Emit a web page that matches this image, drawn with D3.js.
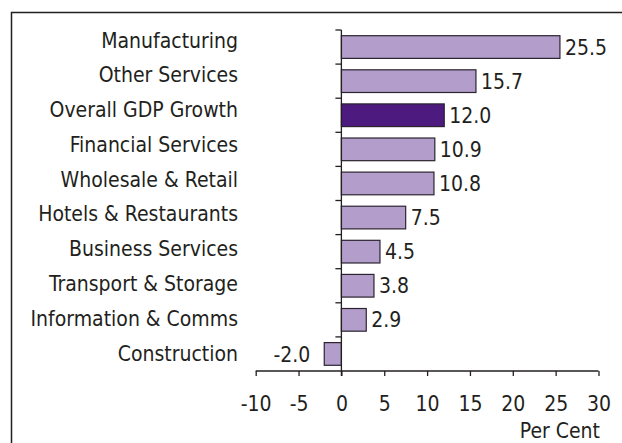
<!DOCTYPE html>
<html>
<head>
<meta charset="utf-8">
<script src="https://cdn.jsdelivr.net/npm/d3@7"></script>
<style>
  html, body { margin: 0; padding: 0; background: #fff; }
  svg { display: block; }
  text { font-family: "DejaVu Sans Condensed", "DejaVu Sans", sans-serif; font-stretch: condensed; fill: #231f20; }
</style>
</head>
<body>
<svg id="chart" width="622" height="443"></svg>
<script>
// Real GDP growth by sector, per cent
const categories = [
  "Manufacturing",
  "Other Services",
  "Overall GDP Growth",
  "Financial Services",
  "Wholesale & Retail",
  "Hotels & Restaurants",
  "Business Services",
  "Transport & Storage",
  "Information & Comms",
  "Construction"
];
const growth = [25.5, 15.7, 12.0, 10.9, 10.8, 7.5, 4.5, 3.8, 2.9, -2.0];
const highlight = "Overall GDP Growth";
const xTicks = [-10, -5, 0, 5, 10, 15, 20, 25, 30];
const xTitle = "Per Cent";

const rows = categories.map((c, i) => ({ name: c, value: growth[i] }));

const svg = d3.select("#chart");
const fontSize = 21;
const fontFamily = '"DejaVu Sans Condensed", "DejaVu Sans", sans-serif';

// outer frame (runs off the right and bottom edges)
svg.append("rect")
  .attr("x", 11.5).attr("y", 12.5)
  .attr("width", 640).attr("height", 460)
  .attr("fill", "none")
  .attr("stroke", "#231f20")
  .attr("stroke-width", 1.5);

const x = d3.scaleLinear().domain([-10, 30]).range([255.7, 598.5]);
const y = d3.scaleBand().domain(categories).range([30, 371]).paddingInner(0.335).paddingOuter(0.1675);
const yLabel = d3.scalePoint().domain(categories).range([40, 353]);

const axisColor = "#231f20";

// bars
svg.append("g").selectAll("rect")
  .data(rows)
  .join("rect")
  .attr("x", d => x(Math.min(0, d.value)))
  .attr("y", d => y(d.name))
  .attr("width", d => Math.abs(x(d.value) - x(0)))
  .attr("height", y.bandwidth())
  .attr("fill", d => d.name === highlight ? "#4d1a7f" : "#b39dca")
  .attr("stroke", "#2b2430")
  .attr("stroke-width", 1.2);

// value labels
svg.append("g").selectAll("text")
  .data(rows)
  .join("text")
  .attr("x", d => d.value >= 0 ? x(d.value) + 5 : x(d.value) - 14)
  .attr("y", d => y(d.name) + y.bandwidth() / 2)
  .attr("dy", "0.36em")
  .attr("text-anchor", d => d.value >= 0 ? "start" : "end")
  .attr("font-size", fontSize)
  .text(d => d.value.toFixed(1));

// category labels
svg.append("g").selectAll("text")
  .data(rows)
  .join("text")
  .attr("x", 238)
  .attr("y", d => yLabel(d.name))
  .attr("dy", "0.36em")
  .attr("text-anchor", "end")
  .attr("font-size", fontSize)
  .text(d => d.name);

// x axis
const xAxis = d3.axisBottom(x).tickValues(xTicks).tickSize(5).tickPadding(20).tickSizeOuter(0)
  .tickFormat(d => String(d));
const gx = svg.append("g").attr("transform", "translate(0,371)").call(xAxis);
gx.select(".domain").attr("stroke", axisColor).attr("stroke-width", 1.3).attr("d", `M${x(-10)},0H${x(30)}`);
gx.selectAll(".tick line").attr("stroke", axisColor).attr("stroke-width", 1.3);
gx.selectAll(".tick text")
  .attr("font-family", fontFamily)
  .attr("font-size", fontSize)
  .attr("fill", "#231f20");

// zero line with category dividers
const boundaries = categories.map(c => y(c) - y.step() * y.paddingInner() / 2);
const gy = svg.append("g");
gy.append("line")
  .attr("x1", x(0)).attr("x2", x(0))
  .attr("y1", 30).attr("y2", 376)
  .attr("stroke", axisColor).attr("stroke-width", 1.3);
gy.selectAll("line.div")
  .data(boundaries)
  .join("line")
  .attr("class", "div")
  .attr("x1", x(0) - 6).attr("x2", x(0))
  .attr("y1", d => d).attr("y2", d => d)
  .attr("stroke", axisColor).attr("stroke-width", 1.3);

// axis title
svg.append("text")
  .attr("x", 600)
  .attr("y", 438)
  .attr("text-anchor", "end")
  .attr("font-size", fontSize)
  .text(xTitle);
</script>
</body>
</html>
